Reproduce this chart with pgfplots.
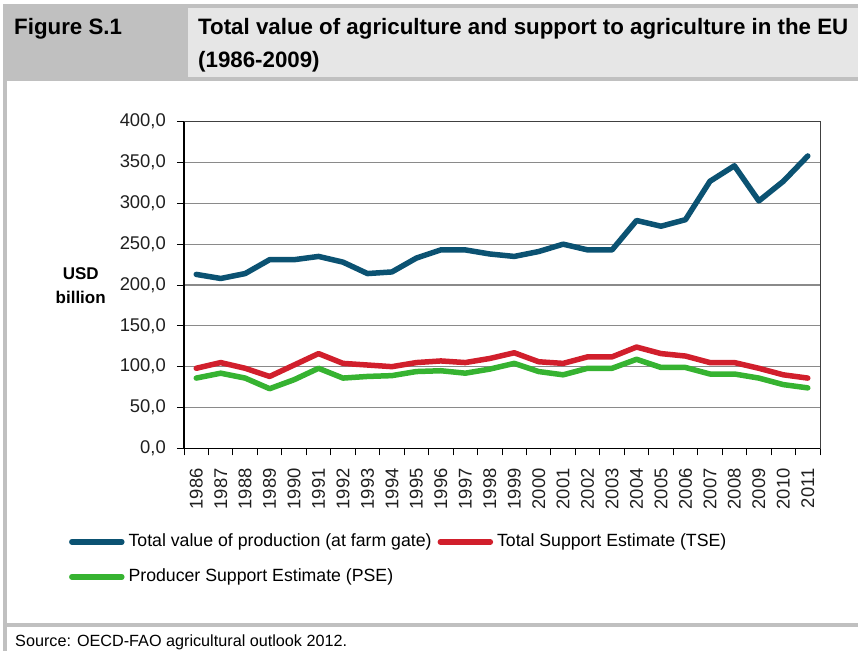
\documentclass[border=0pt]{standalone}
\usepackage{fontspec}
\setmainfont{Liberation Sans}
\usepackage{pgfplots}
\pgfplotsset{compat=1.18}

\definecolor{prodblue}{HTML}{0B5272}
\definecolor{tsered}{HTML}{D11F2C}
\definecolor{psegreen}{HTML}{36B331}
\definecolor{framegray}{HTML}{C0C0C0}
\definecolor{headlight}{HTML}{E6E6E6}
\definecolor{gridgray}{HTML}{8A8A8A}
\definecolor{ticktext}{HTML}{1F1F1F}

\begin{document}
\begin{tikzpicture}
\useasboundingbox (0pt,0pt) rectangle (858pt,651pt);

% frame and header band
\fill[framegray] (3pt,570pt) rectangle (188pt,647pt);
\fill[framegray] (188pt,643pt) rectangle (858pt,647pt);
\fill[headlight] (188pt,574pt) rectangle (858pt,643pt);
\fill[framegray] (188pt,570pt) rectangle (858pt,574pt);
\fill[framegray] (3pt,0pt) rectangle (7pt,570pt);
\fill[framegray] (3pt,24pt) rectangle (858pt,28pt);

\node[anchor=base west, inner sep=0pt, font=\bfseries\fontsize{22.3}{26}\selectfont] at (14pt,616pt) {Figure S.1};
\node[anchor=base west, inner sep=0pt, font=\bfseries\fontsize{22.3}{26}\selectfont] at (198pt,616pt) {Total value of agriculture and support to agriculture in the EU};
\node[anchor=base west, inner sep=0pt, font=\bfseries\fontsize{22.3}{26}\selectfont] at (198pt,583pt) {(1986-2009)};
\node[anchor=base west, inner sep=0pt, font=\fontsize{16.2}{19}\selectfont] at (15pt,4.5pt) {Source: OECD-FAO agricultural outlook 2012.};

% y axis title
\node[align=center, inner sep=0pt, font=\bfseries\fontsize{17}{24}\selectfont] at (80.7pt,365pt) {USD\\billion};

\begin{axis}[
    at={(184pt,202.7pt)}, anchor=south west,
    scale only axis,
    width=636pt, height=326.6pt,
    xmin=-0.5, xmax=25.5,
    ymin=0, ymax=400,
    xtick={0,...,25},
    xticklabels={1986,1987,1988,1989,1990,1991,1992,1993,1994,1995,1996,1997,1998,1999,2000,2001,2002,2003,2004,2005,2006,2007,2008,2009,2010,2011},
    minor xtick={-0.5,0.5,...,25.5},
    ytick={0,50,...,400},
    tick pos=left,
    tick align=outside,
    major tick length=7pt,
    minor tick length=7pt,
    major x tick style={draw=none},
    minor x tick style={black, line width=1pt},
    y tick style={black, line width=1pt},
    ymajorgrids,
    major grid style={gridgray, line width=1.3pt},
    axis line style={draw=black!75, line width=0.7pt},
    /pgf/number format/.cd, fixed, fixed zerofill, precision=1, use comma, assume math mode=true,
    /pgfplots/.cd,
    tick label style={font=\fontsize{18.4}{20}\selectfont, text=ticktext},
    yticklabel style={anchor=east, inner sep=0pt, xshift=-11pt},
    xticklabel style={yshift=-13pt, rotate=90, anchor=east, inner sep=0pt},
    clip=false,
    legend columns=2,
    legend cell align=left,
    legend style={
        at={(axis description cs:-0.181,-0.340)}, anchor=west,
        draw=none, fill=none,
        font=\fontsize{17.7}{20}\selectfont,
        inner sep=0pt,
        nodes={inner sep=0pt, text height=13pt, text depth=4pt},
        row sep=18pt,
        /tikz/every odd column/.append style={column sep=4pt},
        /tikz/every even column/.append style={column sep=6pt},
    },
    legend image code/.code={\draw[#1, line cap=round] (0pt,0pt) -- (50pt,0pt);},
    every axis plot/.append style={line width=5.5pt, line cap=round, line join=round},
]

\addplot[prodblue] coordinates {
(0,213) (1,208) (2,214) (3,231) (4,231) (5,235) (6,228) (7,214) (8,216) (9,233)
(10,243) (11,243) (12,238) (13,235) (14,241) (15,250) (16,243) (17,243) (18,279)
(19,272) (20,280) (21,327) (22,346) (23,303) (24,327) (25,358)};
\addlegendentry{Total value of production (at farm gate)}

\addplot[tsered] coordinates {
(0,98) (1,105) (2,98) (3,88) (4,102) (5,116) (6,104) (7,102) (8,100) (9,105)
(10,107) (11,105) (12,110) (13,117) (14,106) (15,104) (16,112) (17,112) (18,124)
(19,116) (20,113) (21,105) (22,105) (23,98) (24,90) (25,86)};
\addlegendentry{Total Support Estimate (TSE)}

\addplot[psegreen] coordinates {
(0,86) (1,92) (2,86) (3,73) (4,84) (5,98) (6,86) (7,88) (8,89) (9,94)
(10,95) (11,92) (12,97) (13,104) (14,94) (15,90) (16,98) (17,98) (18,109)
(19,99) (20,99) (21,91) (22,91) (23,86) (24,78) (25,74)};
\addlegendentry{Producer Support Estimate (PSE)}

% heavier left and bottom axis lines
\draw[black, line width=1.6pt] (rel axis cs:0,1) -- (rel axis cs:0,0) -- (rel axis cs:1,0);
\end{axis}
\end{tikzpicture}
\end{document}
